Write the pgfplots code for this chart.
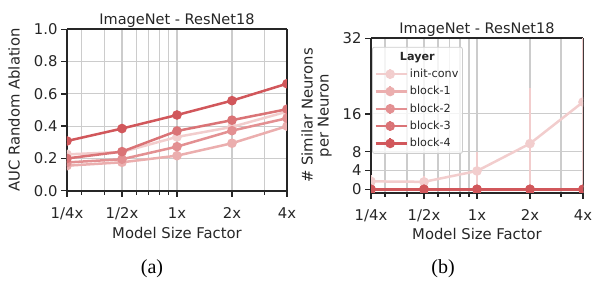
\documentclass[border=0pt]{standalone}
\usepackage{fontspec}
\setmainfont{DejaVu Sans}
\newfontfamily\seriffont{Liberation Serif}
\usepackage{pgfplots}
\pgfplotsset{compat=1.18}
\definecolor{c0}{HTML}{F2CDCD}
\definecolor{c1}{HTML}{EBAEAE}
\definecolor{c2}{HTML}{E39092}
\definecolor{c3}{HTML}{DA7376}
\definecolor{c4}{HTML}{D1575B}
\definecolor{gridc}{HTML}{CCCCCC}
\definecolor{spine}{HTML}{262626}
\pgfkeys{/pgf/number format/assume math mode=true}
\begin{document}
\begin{tikzpicture}
\useasboundingbox (0pt,0pt) rectangle (592pt,286pt);
% ---------------- (a)
\begin{axis}[
  scale only axis,
  at={(67pt,95.3pt)}, anchor=south west,
  width=220pt, height=161.4pt,
  xmode=log,
  xmin=0.25, xmax=4,
  xtick={0.25,0.5,1,2,4},
  xticklabels={1/4x,1/2x,1x,2x,4x},
  minor xtick={0.3,0.4,0.5,0.6,0.7,0.8,0.9,1,2,3},
  minor ytick={0.2,0.4,0.6,0.8},
  grid=minor,
  minor grid style={gridc, line width=1.2pt},
  separate axis lines,
  axis line style={spine, line width=2pt},
  tick align=outside,
  tick pos=left,
  major tick length=6pt, minor tick length=4pt,
  major tick style={spine, line width=1.5pt},
  minor tick style={spine, line width=1.2pt},
  tick label style={font=\fontsize{14.8}{16}\selectfont, text=spine},
  xticklabel style={yshift=-7pt},
  label style={font=\fontsize{14.8}{16}\selectfont, text=spine},
  title style={font=\fontsize{14.5}{16}\selectfont, text=spine, at={(0.5,1)}, anchor=base, yshift=-1pt},
  xlabel style={at={(0.5,0)}, anchor=base, yshift=-48.3pt},
  clip marker paths=true,
  ymin=0, ymax=1,
  ytick={0,0.2,0.4,0.6,0.8,1.0},
  yticklabel style={/pgf/number format/.cd, fixed, fixed zerofill, precision=1},
  title={ImageNet - ResNet18},
  xlabel={Model Size Factor},
  ylabel={AUC Random Ablation},
  ylabel style={at={(0,0.5)}, anchor=center, yshift=53pt},
]
\addplot[c0, line width=2.5pt, mark=*, mark size=3.5pt, mark options={fill=c0}] coordinates {(0.25,0.225) (0.5,0.24) (1,0.333) (2,0.395) (4,0.49)};
\addplot[c1, line width=2.5pt, mark=*, mark size=3.5pt, mark options={fill=c1}] coordinates {(0.25,0.155) (0.5,0.176) (1,0.217) (2,0.294) (4,0.40)};
\addplot[c2, line width=2.5pt, mark=*, mark size=3.5pt, mark options={fill=c2}] coordinates {(0.25,0.175) (0.5,0.195) (1,0.273) (2,0.372) (4,0.449)};
\addplot[c3, line width=2.5pt, mark=*, mark size=3.5pt, mark options={fill=c3}] coordinates {(0.25,0.20) (0.5,0.242) (1,0.370) (2,0.437) (4,0.505)};
\addplot[c4, line width=2.5pt, mark=*, mark size=3.5pt, mark options={fill=c4}] coordinates {(0.25,0.308) (0.5,0.385) (1,0.469) (2,0.558) (4,0.663)};
\end{axis}
% ---------------- (b)
\begin{axis}[
  scale only axis,
  at={(371pt,93.3pt)}, anchor=south west,
  width=212pt, height=154.4pt,
  xmode=log,
  xmin=0.25, xmax=4,
  xtick={0.25,0.5,1,2,4},
  xticklabels={1/4x,1/2x,1x,2x,4x},
  minor xtick={0.3,0.4,0.5,0.6,0.7,0.8,0.9,1,2,3},
  minor ytick={0,4,8,16},
  grid=minor,
  minor grid style={gridc, line width=1.2pt},
  separate axis lines,
  axis line style={spine, line width=2pt},
  tick align=outside,
  tick pos=left,
  major tick length=6pt, minor tick length=4pt,
  major tick style={spine, line width=1.5pt},
  minor tick style={spine, line width=1.2pt},
  tick label style={font=\fontsize{14.8}{16}\selectfont, text=spine},
  xticklabel style={yshift=-7pt},
  label style={font=\fontsize{14.8}{16}\selectfont, text=spine},
  title style={font=\fontsize{14.5}{16}\selectfont, text=spine, at={(0.5,1)}, anchor=base, yshift=-1pt},
  xlabel style={at={(0.5,0)}, anchor=base, yshift=-46.7pt},
  clip marker paths=true,
  ymin=-0.7, ymax=32,
  ytick={0,4,8,16,32},
  title={ImageNet - ResNet18},
  xlabel={Model Size Factor},
  ylabel={\# Similar Neurons\\per Neuron},
  ylabel style={align=center, at={(0,0.5)}, anchor=center, yshift=54.5pt},
  legend cell align=left,
  legend image code/.code={
    \path (-2pt,0pt) -- (29pt,0pt);
    \draw[#1, mark=none] (0pt,0pt) -- (25pt,0pt);
    \draw[#1, mark=none, line width=1.5pt] (12.5pt,-5pt) -- (12.5pt,5pt);
    \draw[#1] plot coordinates {(12.5pt,0pt)};
  },
  legend style={at={(0.005,0.945)}, anchor=north west,
    font=\fontsize{11.2}{13}\selectfont, text=spine,
    draw=gridc, line width=0.8pt, rounded corners=2pt,
    fill=white, fill opacity=0.8, text opacity=1,
    row sep=3.3pt, inner xsep=2pt, inner ysep=3pt},
]
\addlegendimage{empty legend}
\addlegendentry{\hspace{-10pt}\textbf{Layer}}
\addplot[c0, line width=2.5pt, mark=*, mark size=3.5pt, mark options={fill=c0},
  error bars/.cd, y dir=both, y explicit,
  error bar style={line width=1.5pt, c0}, error mark=none]
  coordinates {(0.25,1.7) +- (0,1.4) (0.5,1.6) +- (0,1.2) (1,3.9) +- (0,4.1) (2,9.7) +- (0,11.7) (4,18.5) +- (0,18)};
\addlegendentry{init-conv}
\addplot[c1, line width=2.5pt, mark=*, mark size=3.5pt, mark options={fill=c1}] coordinates {(0.25,0) (0.5,0) (1,0) (2,0) (4,0)};
\addlegendentry{block-1}
\addplot[c2, line width=2.5pt, mark=*, mark size=3.5pt, mark options={fill=c2}] coordinates {(0.25,0) (0.5,0) (1,0) (2,0) (4,0)};
\addlegendentry{block-2}
\addplot[c3, line width=2.5pt, mark=*, mark size=3.5pt, mark options={fill=c3}] coordinates {(0.25,0) (0.5,0) (1,0) (2,0) (4,0)};
\addlegendentry{block-3}
\addplot[c4, line width=2.5pt, mark=*, mark size=3.5pt, mark options={fill=c4}] coordinates {(0.25,0) (0.5,0) (1,0) (2,0) (4,0)};
\addlegendentry{block-4}
\end{axis}
\node[font=\seriffont\fontsize{20}{22}\selectfont, anchor=base] at (152pt,12pt) {(a)};
\node[font=\seriffont\fontsize{20}{22}\selectfont, anchor=base] at (443pt,12pt) {(b)};
\end{tikzpicture}
\end{document}
